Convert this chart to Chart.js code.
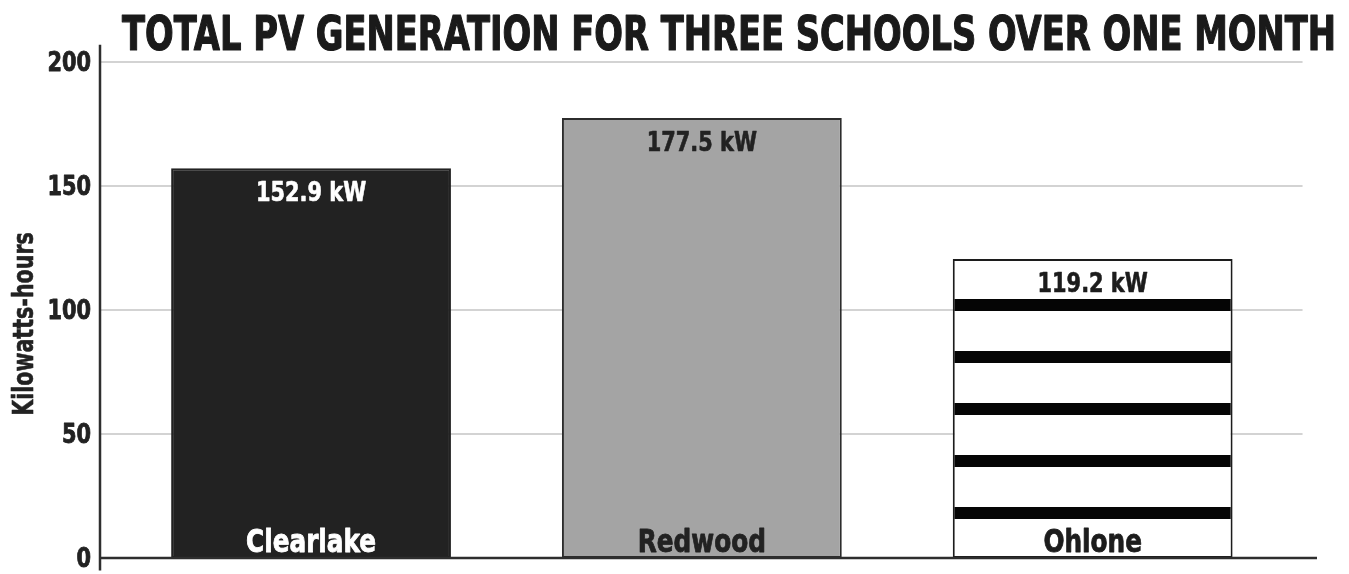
<!DOCTYPE html>
<html>
<head>
<meta charset="utf-8">
<script src="https://cdn.jsdelivr.net/npm/chart.js@4.4.1/dist/chart.umd.min.js"></script>
<style>
  body { margin: 0; background: #fff; }
  #wrap { width: 1349px; height: 574px; }
</style>
</head>
<body>
<div id="wrap"><canvas id="pvChart"></canvas></div>
<script>
// data
const categories = ['Clearlake', 'Redwood', 'Ohlone'];
const barValues = [157.2, 177.4, 120.6];
const valueLabels = ['152.9 kW', '177.5 kW', '119.2 kW'];
const yTickValues = [0, 50, 100, 150, 200];
const titleText = 'TOTAL PV GENERATION FOR THREE SCHOOLS OVER ONE MONTH';
const yTitleText = 'Kilowatts-hours';

const FONT = '"DejaVu Sans Condensed", "DejaVu Sans", sans-serif';
const SQUEEZE = 0.86; // the original face is narrower than DejaVu condensed

// striped fill for the Ohlone bar
function makeStripes() {
    const c = document.createElement('canvas');
    c.width = 8;
    c.height = 52;
    const g = c.getContext('2d');
    g.fillStyle = '#ffffff';
    g.fillRect(0, 0, 8, 52);
    g.fillStyle = '#050505';
    g.fillRect(0, 39, 8, 12);
    return g.createPattern(c, 'repeat');
}

const fills = ['#222222', '#a4a4a4', makeStripes()];
const borders = ['#222222', '#2c2c2c', '#1c1c1c'];
const labelColors = ['#ffffff', '#222222', '#1c1c1c'];

// text drawn narrower than the font (and a bit heavier), anchored at x
function squeezedText(ctx, text, x, y, size, align, factor, heavy) {
    ctx.save();
    ctx.font = 'bold ' + size + 'px ' + FONT;
    ctx.textAlign = align;
    ctx.textBaseline = 'alphabetic';
    ctx.translate(x, y);
    ctx.scale(factor, 1);
    ctx.fillText(text, 0, 0);
    if (heavy) {
        ctx.strokeStyle = ctx.fillStyle;
        ctx.lineWidth = heavy;
        ctx.lineJoin = 'round';
        ctx.strokeText(text, 0, 0);
    }
    ctx.restore();
}

// grid lines stop a little before the axis line end
const gridPlugin = {
    id: 'grid',
    beforeDatasetsDraw(chart) {
        const { ctx, chartArea, scales } = chart;
        const right = scales.x.getPixelForValue(2.537);
        ctx.save();
        ctx.strokeStyle = '#c4c4c4';
        ctx.lineWidth = 1.5;
        yTickValues.forEach(v => {
            if (v === 0) return;
            const y = scales.y.getPixelForValue(v);
            ctx.beginPath();
            ctx.moveTo(chartArea.left, y);
            ctx.lineTo(right, y);
            ctx.stroke();
        });
        ctx.restore();
    }
};

// axis lines, tick labels, bar texts and titles
const decoPlugin = {
    id: 'deco',
    afterDatasetsDraw(chart) {
        const { ctx, chartArea, scales } = chart;
        const y0 = scales.y.getPixelForValue(0);
        ctx.save();
        ctx.strokeStyle = '#2e2e2e';
        ctx.lineWidth = 2.5;
        ctx.beginPath();
        ctx.moveTo(chartArea.left, scales.y.getPixelForValue(207));
        ctx.lineTo(chartArea.left, scales.y.getPixelForValue(-5));
        ctx.moveTo(chartArea.left, y0);
        ctx.lineTo(chartArea.right, y0);
        ctx.stroke();
        ctx.restore();

        ctx.fillStyle = '#222222';
        yTickValues.forEach(v => {
            squeezedText(ctx, String(v), chartArea.left - 9, scales.y.getPixelForValue(v) + 9, 27, 'right', SQUEEZE, 0.8);
        });

        // rotated axis title
        ctx.save();
        ctx.translate(33, (chartArea.top + chartArea.bottom) / 2 + 14);
        ctx.rotate(-Math.PI / 2);
        ctx.fillStyle = '#222222';
        squeezedText(ctx, yTitleText, 0, 0, 29, 'center', 0.79, 0.6);
        ctx.restore();

        const meta = chart.getDatasetMeta(0);
        meta.data.forEach((bar, i) => {
            ctx.fillStyle = labelColors[i];
            squeezedText(ctx, valueLabels[i], bar.x, bar.y + 33, 27, 'center', SQUEEZE, 0.6);
            squeezedText(ctx, categories[i], bar.x, y0 - 6, 32, 'center', SQUEEZE, 0.8);
        });

        // title squeezed to the width it has in the original
        ctx.save();
        ctx.font = 'bold 48px ' + FONT;
        const w = ctx.measureText(titleText).width;
        ctx.restore();
        ctx.fillStyle = '#1a1a1a';
        squeezedText(ctx, titleText, 122, 50, 48, 'left', 1214 / w, 1.2);
    }
};

new Chart(document.getElementById('pvChart'), {
    type: 'bar',
    data: {
        datasets: [{
            data: categories.map((c, i) => ({ x: i, y: barValues[i] })),
            backgroundColor: fills,
            borderColor: borders,
            borderWidth: 2,
            borderSkipped: false,
            barPercentage: 0.716,
            categoryPercentage: 1
        }]
    },
    options: {
        responsive: true,
        maintainAspectRatio: false,
        animation: false,
        layout: { padding: { top: 62, right: 32, bottom: 16, left: 0 } },
        plugins: {
            legend: { display: false },
            tooltip: { enabled: false }
        },
        scales: {
            x: {
                type: 'linear',
                display: false,
                offset: false,
                min: -0.54,
                max: 2.574,
                grid: { offset: false },
                afterBuildTicks(scale) {
                    scale.ticks = categories.map((c, i) => ({ value: i }));
                }
            },
            y: {
                min: 0,
                max: 200,
                afterBuildTicks(scale) {
                    scale.ticks = yTickValues.map(v => ({ value: v }));
                },
                afterFit(scale) {
                    scale.width = 100;
                },
                grid: { display: false },
                border: { display: false },
                ticks: { display: false }
            }
        }
    },
    plugins: [gridPlugin, decoPlugin]
});
</script>
</body>
</html>
